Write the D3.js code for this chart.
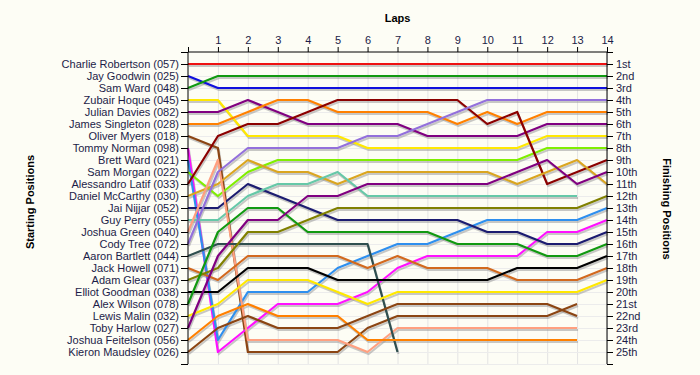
<!DOCTYPE html>
<html>
<head>
<meta charset="utf-8">
<script src="https://cdn.jsdelivr.net/npm/d3@7"></script>
<style>
  html, body { margin: 0; padding: 0; background: #fdfdf5; }
  svg { display: block; font-family: "Liberation Sans", Arial, sans-serif; }
</style>
</head>
<body>
<div id="chart"></div>
<script>
// drivers in starting order (grid position 1..25)
const drivers = [
  "Charlie Robertson (057)", "Jay Goodwin (025)", "Sam Ward (048)", "Zubair Hoque (045)",
  "Julian Davies (082)", "James Singleton (028)", "Oliver Myers (018)", "Tommy Norman (098)",
  "Brett Ward (021)", "Sam Morgan (022)", "Alessandro Latif (033)", "Daniel McCarthy (030)",
  "Jai Nijjar (052)", "Guy Perry (055)", "Joshua Green (040)", "Cody Tree (072)",
  "Aaron Bartlett (044)", "Jack Howell (071)", "Adam Glear (037)", "Elliot Goodman (038)",
  "Alex Wilson (078)", "Lewis Malin (032)", "Toby Harlow (027)", "Joshua Feitelson (056)",
  "Kieron Maudsley (026)"
];

const finishLabels = [
  "1st", "2nd", "3rd", "4th", "5th", "6th", "7th", "8th", "9th", "10th", "11th", "12th", "13th",
  "14th", "15th", "16th", "17th", "18th", "19th", "20th", "21st", "22nd", "23rd", "24th", "25th"
];

const laps = [0, 1, 2, 3, 4, 5, 6, 7, 8, 9, 10, 11, 12, 13, 14];

// running order after each lap, as starting numbers (lap 0 = grid)
const lapOrder = [
  [1,2,3,4,5,6,7,8,9,10,11,12,13,14,15,16,17,18,19,20,21,22,23,24,25],
  [1,3,2,4,5,6,11,7,15,16,12,10,13,14,21,17,23,19,18,20,22,24,25,9,8],
  [1,3,2,5,6,11,4,16,12,10,13,14,21,23,19,17,18,20,22,9,24,25,8,15,7],
  [1,3,2,6,5,11,4,16,10,12,14,13,21,23,19,17,18,20,22,9,8,24,25,15,7],
  [1,3,2,6,11,5,4,16,10,12,14,23,13,19,21,17,18,20,22,9,8,24,25,15,7],
  [1,3,2,11,6,5,4,16,10,14,12,23,19,13,21,17,18,9,20,22,8,24,25,15,7],
  [1,3,2,11,6,5,16,4,10,12,23,14,19,13,21,17,9,18,20,8,22,25,7,24,15],
  [1,3,2,11,6,5,16,4,10,12,23,14,19,13,21,9,18,8,20,22,25,7,15,24,17],
  [1,3,2,11,6,16,5,4,10,12,23,14,19,13,21,9,8,18,20,22,25,7,15,24],
  [1,3,2,11,16,6,5,4,10,12,23,14,19,13,9,21,8,18,20,22,25,7,15,24],
  [1,3,2,16,6,11,5,4,10,12,23,14,19,9,13,21,8,18,20,22,25,7,15,24],
  [1,3,2,16,11,6,5,4,10,23,12,14,19,9,13,21,8,20,18,22,25,7,15,24],
  [1,3,2,16,6,5,4,10,23,12,11,14,19,9,8,13,21,20,18,22,25,7,15,24],
  [1,3,2,16,6,5,4,10,12,11,23,14,19,9,8,13,21,20,18,22,7,25,15,24],
  [1,3,2,16,6,5,4,10,11,23,12,19,9,8,13,21,20,18,22]
];

const lineColours = [
  "#ee1111", "#1010dd", "#119911", "#ffe800", "#800080", "#ff8000", "#8b4513", "#ff11ff",
  "#2e8fee", "#80ee00", "#8b0000", "#daa520", "#1c1c70", "#66c8a8", "#ffa080", "#9370db",
  "#2f4f4f", "#d2691e", "#808000", "#000000", "#119911", "#ffe800", "#800080", "#ff8000",
  "#8b4513"
];

const width = 700;
const height = 375;
const margin = { top: 52, right: 93, bottom: 11, left: 188 };
const textColour = "#1c1c48";

const svg = d3.select("#chart")
  .append("svg")
  .attr("width", width)
  .attr("height", height);

const x = d3.scaleLinear()
  .domain([0, 14])
  .range([margin.left, width - margin.right]);

const y = d3.scaleLinear()
  .domain([0, 26])
  .range([margin.top, height - margin.bottom]);

const colour = d3.scaleOrdinal()
  .domain(d3.range(1, drivers.length + 1))
  .range(lineColours);

// position of each driver on each lap, null once they drop out
const series = drivers.map((name, i) => {
  const id = i + 1;
  const points = [];
  lapOrder.forEach((order, lap) => {
    const pos = order.indexOf(id);
    if (pos >= 0) points.push({ lap: lap, pos: pos + 1 });
  });
  return { id, name, points };
});

// grid
const grid = svg.append("g").attr("class", "grid");
grid.selectAll("line.v")
  .data(laps.slice(1))
  .enter()
  .append("line")
  .attr("x1", d => x(d) + 0.5)
  .attr("x2", d => x(d) + 0.5)
  .attr("y1", y(0))
  .attr("y2", y(26))
  .attr("stroke", "#e4e4e4");

grid.selectAll("line.h")
  .data(d3.range(1, 27))
  .enter()
  .append("line")
  .attr("x1", x(0))
  .attr("x2", x(14))
  .attr("y1", d => Math.round(y(d)) + 0.5)
  .attr("y2", d => Math.round(y(d)) + 0.5)
  .attr("stroke", "#ececec");

const line = d3.line()
  .x(d => x(d.lap))
  .y(d => y(d.pos));

// shadows first, then the coloured lines
svg.append("g")
  .attr("transform", "translate(1,2)")
  .selectAll("path")
  .data(series)
  .enter()
  .append("path")
  .attr("d", d => line(d.points))
  .attr("fill", "none")
  .attr("stroke", "#9a9a9a")
  .attr("stroke-opacity", 0.55)
  .attr("stroke-width", 2);

svg.append("g")
  .selectAll("path")
  .data(series)
  .enter()
  .append("path")
  .attr("d", d => line(d.points))
  .attr("fill", "none")
  .attr("stroke", d => colour(d.id))
  .attr("stroke-width", 2.2)
  .attr("stroke-linejoin", "round");

// axes
const leftAxis = d3.axisLeft(y)
  .tickValues(d3.range(0, 27))
  .tickSize(7)
  .tickPadding(2)
  .tickFormat(d => (d >= 1 && d <= 25) ? drivers[d - 1] : "");

const rightAxis = d3.axisRight(y.copy().domain([0, 26]))
  .tickValues(d3.range(0, 27))
  .tickSize(6)
  .tickPadding(3)
  .tickFormat(d => (d >= 1 && d <= 25) ? finishLabels[d - 1] : "");

const topAxis = d3.axisTop(x)
  .tickValues(laps)
  .tickSize(5)
  .tickPadding(3)
  .tickFormat(d => d === 0 ? "" : d);

function styleAxis(g) {
  g.select(".domain").attr("stroke", "#000");
  g.selectAll(".tick line").attr("stroke", "#000");
  g.selectAll(".tick text")
    .attr("fill", textColour)
    .style("font-size", "11px");
}

svg.append("g")
  .attr("transform", `translate(${x(0)},0)`)
  .call(leftAxis)
  .call(g => g.select(".domain").attr("d", `M0,${y(0)}V${y(26)}`))
  .call(styleAxis);

svg.append("g")
  .attr("transform", `translate(${x(14)},0)`)
  .call(rightAxis)
  .call(g => g.select(".domain").attr("d", `M0,${y(0)}V${y(26)}`))
  .call(styleAxis);

svg.append("g")
  .attr("transform", `translate(0,${y(0)})`)
  .call(topAxis)
  .call(g => g.select(".domain").attr("d", `M${x(0)},0H${x(14)}`))
  .call(styleAxis);

// titles
svg.append("text")
  .attr("x", (x(0) + x(14)) / 2)
  .attr("y", 22)
  .attr("text-anchor", "middle")
  .style("font-size", "11px")
  .style("font-weight", "bold")
  .text("Laps");

svg.append("text")
  .attr("transform", `translate(34,${(y(0) + y(26)) / 2 - 6}) rotate(-90)`)
  .attr("text-anchor", "middle")
  .style("font-size", "11px")
  .style("font-weight", "bold")
  .text("Starting Positions");

svg.append("text")
  .attr("transform", `translate(663,${(y(0) + y(26)) / 2 + 1}) rotate(90)`)
  .attr("text-anchor", "middle")
  .style("font-size", "11px")
  .style("font-weight", "bold")
  .text("Finishing Positions");
</script>
</body>
</html>
